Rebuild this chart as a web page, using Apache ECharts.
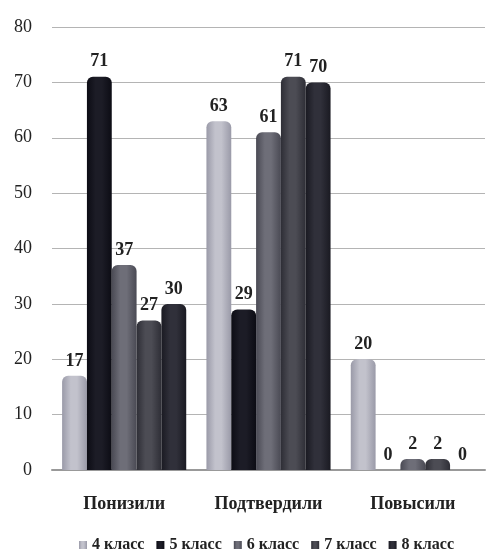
<!DOCTYPE html>
<html>
<head>
<meta charset="utf-8">
<script src="https://cdn.jsdelivr.net/npm/echarts@6/dist/echarts.min.js"></script>
<style>html,body{margin:0;padding:0;background:#fff}#c{width:489px;height:560px}</style>
</head>
<body>
<div id="c"></div>
<script>
var categories = ['Понизили', 'Подтвердили', 'Повысили'];
var seriesNames = ['4 класс', '5 класс', '6 класс', '7 класс', '8 класс'];
var grade4 = [17, 63, 20];
var grade5 = [71, 29, 0];
var grade6 = [37, 61, 2];
var grade7 = [27, 71, 2];
var grade8 = [30, 70, 0];
var yTicks = [0, 10, 20, 30, 40, 50, 60, 70, 80];

var values = [grade4, grade5, grade6, grade7, grade8];
var colors = ['#c2c2cc', '#1c1c26', '#6e6e78', '#4c4c54', '#30303a'];
var edge = ['#9a9aa8', '#0c0c14', '#4a4a54', '#2e2e36', '#1a1a22'];
var serif = '"Liberation Serif", "DejaVu Serif", serif';

function cyl(c, e) {
  return new echarts.graphic.LinearGradient(0, 0, 1, 0, [
    {offset: 0, color: e}, {offset: 0.35, color: c}, {offset: 0.6, color: c}, {offset: 1, color: e}
  ]);
}

var chart = echarts.init(document.getElementById('c'), null, {renderer: 'canvas'});
chart.setOption({
  animation: false,
  backgroundColor: '#fff',
  grid: {left: 52, right: 4, top: 27, bottom: 90},
  legend: {
    bottom: 2, left: 74,
    itemWidth: 8, itemHeight: 8, itemGap: 12,
    icon: 'rect',
    data: seriesNames,
    textStyle: {fontFamily: serif, fontWeight: 'bold', fontSize: 16, color: '#222'}
  },
  xAxis: {
    type: 'category', data: categories,
    axisTick: {show: false},
    axisLine: {lineStyle: {color: '#999', width: 2}},
    axisLabel: {margin: 25, fontFamily: serif, fontWeight: 'bold', fontSize: 18, color: '#222'}
  },
  yAxis: {
    type: 'value', min: yTicks[0], max: yTicks[yTicks.length - 1], interval: 10,
    axisLine: {show: false}, axisTick: {show: false},
    splitLine: {lineStyle: {color: '#b4b4b4', width: 1}},
    axisLabel: {margin: 20, fontFamily: serif, fontSize: 18, color: '#222'}
  },
  series: seriesNames.map(function (n, i) {
    return {
      name: n, type: 'bar', data: values[i],
      barGap: '0%', barCategoryGap: '14%',
      itemStyle: {color: cyl(colors[i], edge[i]), borderRadius: [6, 6, 0, 0]},
      label: {
        show: true, position: 'top', distance: 6,
        fontFamily: serif, fontWeight: 'bold', fontSize: 18, color: '#222'
      }
    };
  }),
  color: colors
});
</script>
</body>
</html>
